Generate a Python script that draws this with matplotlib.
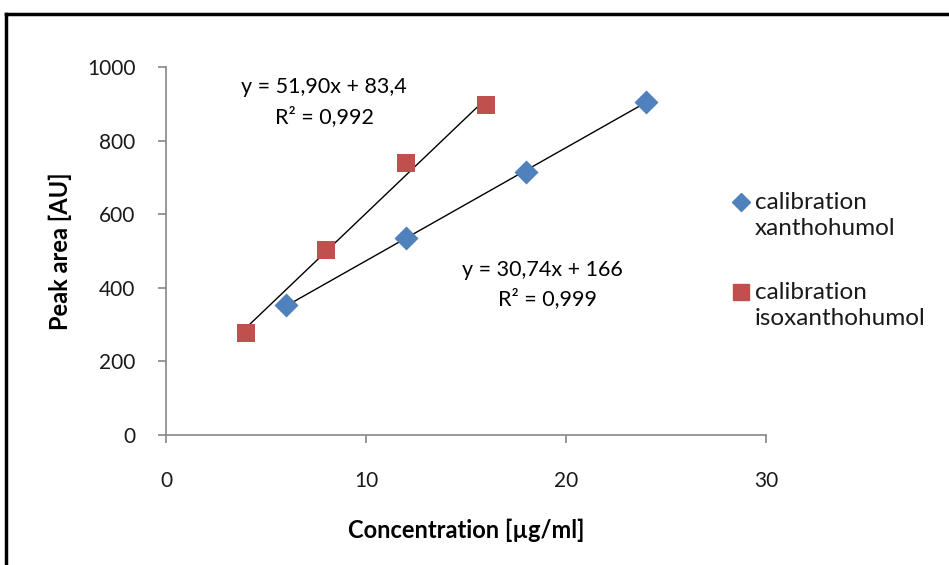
import matplotlib.pyplot as plt
from matplotlib.lines import Line2D

# data
xan_conc = [6, 12, 18, 24]
xan_area = [352, 534, 716, 906]
iso_conc = [4, 8, 12, 16]
iso_area = [276, 503, 738, 898]

# trendline coefficients (as printed on the chart)
xan_fit = (30.74, 166)
iso_fit = (51.90, 83.4)
xan_eq = ["y = 30,74x + 166", "R² = 0,999"]
iso_eq = ["y = 51,90x + 83,4", "R² = 0,992"]
labels = ["calibration\nxanthohumol", "calibration\nisoxanthohumol"]

blue = "#4F81BD"
red = "#C0504D"
grey = "#868686"

plt.rcParams['font.family'] = ['Lato', 'DejaVu Sans']

fig = plt.figure(figsize=(9.49, 5.65), dpi=100)
ax = fig.add_axes([166/949, 130/565, 600/949, 368/565])

# trendlines across the data range
for conc, (m, b) in [(xan_conc, xan_fit), (iso_conc, iso_fit)]:
    xs = [min(conc), max(conc)]
    ax.plot(xs, [m * v + b for v in xs], color="black", lw=1.0, zorder=2)

ax.scatter(xan_conc, xan_area, marker="D", s=150, color=blue, zorder=3, linewidths=0)
ax.scatter(iso_conc, iso_area, marker="s", s=180, color=red, zorder=3, linewidths=0)

ax.set_xlim(0, 30)
ax.set_ylim(0, 1000)
ax.set_xticks([0, 10, 20, 30])
ax.set_yticks(range(0, 1001, 200))
for s in ["top", "right"]:
    ax.spines[s].set_visible(False)
for s in ["left", "bottom"]:
    ax.spines[s].set_color(grey)
    ax.spines[s].set_linewidth(1.2)
ax.tick_params(axis="both", colors=grey, length=6, width=1.2, labelsize=15,
               labelcolor="#1a1a1a")
ax.tick_params(axis="x", pad=20)
ax.tick_params(axis="y", pad=16)

ax.set_xlabel("Concentration [µg/ml]", fontsize=17, fontweight="bold", labelpad=20)
ax.set_ylabel("Peak area [AU]", fontsize=17, fontweight="bold", labelpad=11)

# equation labels
ax.text(7.9, 946, iso_eq[0], fontsize=15.5, ha="center", va="center")
ax.text(7.9, 864, iso_eq[1], fontsize=15.5, ha="center", va="center")
ax.text(18.8, 448, xan_eq[0], fontsize=15.5, ha="center", va="center")
ax.text(19.1, 370, xan_eq[1], fontsize=15.5, ha="center", va="center")

# legend, marker beside the first line of each label
for (mk, col, ms), lab, ytop in zip([("D", blue, 9), ("s", red, 12)], labels, [202, 292]):
    fy = 1 - ytop / 565
    fig.add_artist(Line2D([741/949], [fy], marker=mk, ls="", color=col, markersize=ms,
                          transform=fig.transFigure))
    fig.text(755/949, fy + 10/565, lab, fontsize=17.5, ha="left", va="top",
             linespacing=1.3, color="#1a1a1a")

# chart frame (top and left edges visible)
fig.add_artist(Line2D([6/949, 1], [1 - 14/565, 1 - 14/565], color="black", lw=2.5,
                      transform=fig.transFigure))
fig.add_artist(Line2D([6/949, 6/949], [0, 1 - 14/565], color="black", lw=2.5,
                      transform=fig.transFigure))

fig.savefig("out.png", dpi=100)
